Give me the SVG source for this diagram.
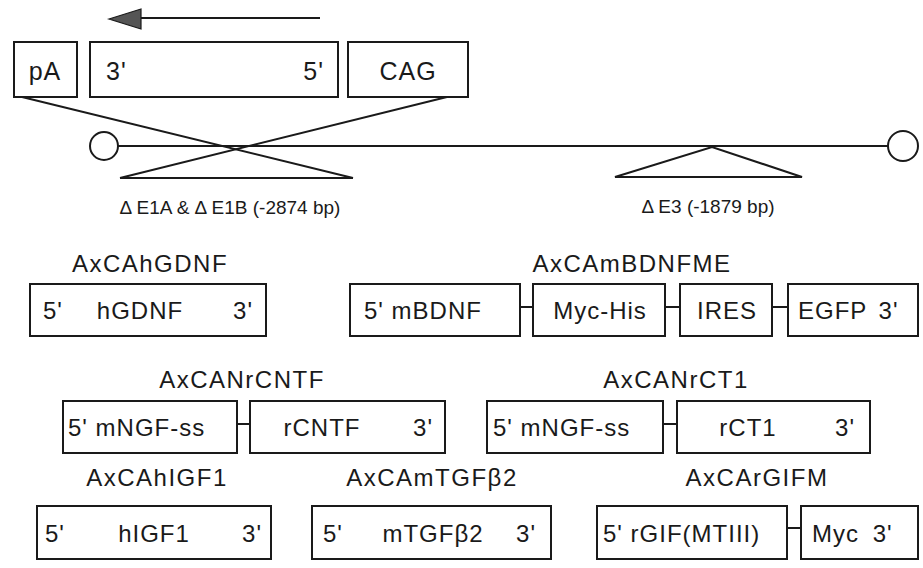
<svg xmlns="http://www.w3.org/2000/svg" width="923" height="568" viewBox="0 0 923 568">
<style>
  .bx{fill:#fff;stroke:#1a1a1a;stroke-width:2}
  .ln{stroke:#1a1a1a;stroke-width:2;fill:none}
  .t{font-family:"Liberation Sans",Arial,Helvetica,sans-serif;fill:#1a1a1a}
  .lab{font-size:24px;letter-spacing:1.5px;text-anchor:middle}
  .in{font-size:24px;letter-spacing:1px}
  .top{font-size:25px;letter-spacing:1px}
  .sm{font-size:19px;text-anchor:middle}
  .m{text-anchor:middle}
  .e{text-anchor:end}
</style>
<rect width="923" height="568" fill="#fff"/>

<g id="connectors">
  <line class="ln" x1="320" y1="18" x2="136" y2="18"/>
  <polygon points="109,19 141,9 141,29" fill="#555" stroke="#1a1a1a" stroke-width="1.2"/>
  <line class="ln" x1="118" y1="146" x2="888" y2="146"/>
  <line class="ln" x1="22" y1="97" x2="353" y2="178"/>
  <line class="ln" x1="455" y1="95" x2="120" y2="178"/>
  <line class="ln" x1="120" y1="178" x2="353" y2="178"/>
  <polygon class="ln" points="615,177 712,147 802,177"/>
  <line class="ln" x1="520" y1="307" x2="533" y2="307"/>
  <line class="ln" x1="665" y1="307" x2="680" y2="307"/>
  <line class="ln" x1="772" y1="307" x2="788" y2="307"/>
  <line class="ln" x1="237" y1="424" x2="250" y2="424"/>
  <line class="ln" x1="663" y1="424" x2="677" y2="424"/>
  <line class="ln" x1="787" y1="528" x2="801" y2="528"/>
</g>

<g id="vector">
  <g id="pA"><rect class="bx" x="14" y="42" width="63" height="55"/><text class="t top m" x="45" y="80">pA</text></g>
  <g id="insert"><rect class="bx" x="90" y="42" width="248" height="55"/><text class="t top" x="106" y="80">3'</text><text class="t top e" x="324" y="80">5'</text></g>
  <g id="CAG"><rect class="bx" x="348" y="42" width="120" height="55"/><text class="t top m" x="408" y="80">CAG</text></g>
  <circle class="ln" cx="104" cy="146" r="14"/>
  <circle class="ln" cx="903" cy="146" r="15"/>
  <text class="t sm" x="230" y="214">Δ E1A &amp; Δ E1B (-2874 bp)</text>
  <text class="t sm" x="708" y="213">Δ E3 (-1879 bp)</text>
</g>

<g id="AxCAhGDNF">
  <text class="t lab" x="150" y="272">AxCAhGDNF</text>
  <rect class="bx" x="30" y="284" width="236" height="52"/>
  <text class="t in" x="43" y="319">5'</text>
  <text class="t in m" x="140" y="319">hGDNF</text>
  <text class="t in e" x="253" y="319">3'</text>
</g>

<g id="AxCAmBDNFME">
  <text class="t lab" x="632" y="272">AxCAmBDNFME</text>
  <rect class="bx" x="350" y="284" width="170" height="52"/>
  <text class="t in" x="364" y="319">5' mBDNF</text>
  <rect class="bx" x="533" y="284" width="132" height="52"/>
  <text class="t in m" x="600" y="319">Myc-His</text>
  <rect class="bx" x="680" y="284" width="92" height="52"/>
  <text class="t in m" x="727" y="319">IRES</text>
  <rect class="bx" x="788" y="284" width="130" height="52"/>
  <text class="t in" x="798" y="319" word-spacing="4">EGFP 3'</text>
</g>

<g id="AxCANrCNTF">
  <text class="t lab" x="242" y="388">AxCANrCNTF</text>
  <rect class="bx" x="63" y="401" width="174" height="52"/>
  <text class="t in" x="68" y="436">5' mNGF-ss</text>
  <rect class="bx" x="250" y="401" width="195" height="52"/>
  <text class="t in m" x="322" y="436">rCNTF</text>
  <text class="t in e" x="433" y="436">3'</text>
</g>

<g id="AxCANrCT1">
  <text class="t lab" x="676" y="388">AxCANrCT1</text>
  <rect class="bx" x="487" y="401" width="176" height="52"/>
  <text class="t in" x="493" y="436">5' mNGF-ss</text>
  <rect class="bx" x="677" y="401" width="193" height="52"/>
  <text class="t in m" x="748" y="436">rCT1</text>
  <text class="t in e" x="855" y="436">3'</text>
</g>

<g id="AxCAhIGF1">
  <text class="t lab" x="157" y="486">AxCAhIGF1</text>
  <rect class="bx" x="37" y="506" width="234" height="53"/>
  <text class="t in" x="45" y="542">5'</text>
  <text class="t in m" x="154" y="542">hIGF1</text>
  <text class="t in e" x="262" y="542">3'</text>
</g>

<g id="AxCAmTGFb2">
  <text class="t lab" x="432" y="486">AxCAmTGFβ2</text>
  <rect class="bx" x="312" y="506" width="239" height="53"/>
  <text class="t in" x="323" y="542">5'</text>
  <text class="t in m" x="433" y="542">mTGFβ2</text>
  <text class="t in e" x="536" y="542">3'</text>
</g>

<g id="AxCArGIFM">
  <text class="t lab" x="757" y="486">AxCArGIFM</text>
  <rect class="bx" x="597" y="506" width="190" height="53"/>
  <text class="t in" x="603" y="542">5' rGIF(MTIII)</text>
  <rect class="bx" x="801" y="506" width="117" height="53"/>
  <text class="t in" x="812" y="542" word-spacing="6">Myc 3'</text>
</g>
</svg>
